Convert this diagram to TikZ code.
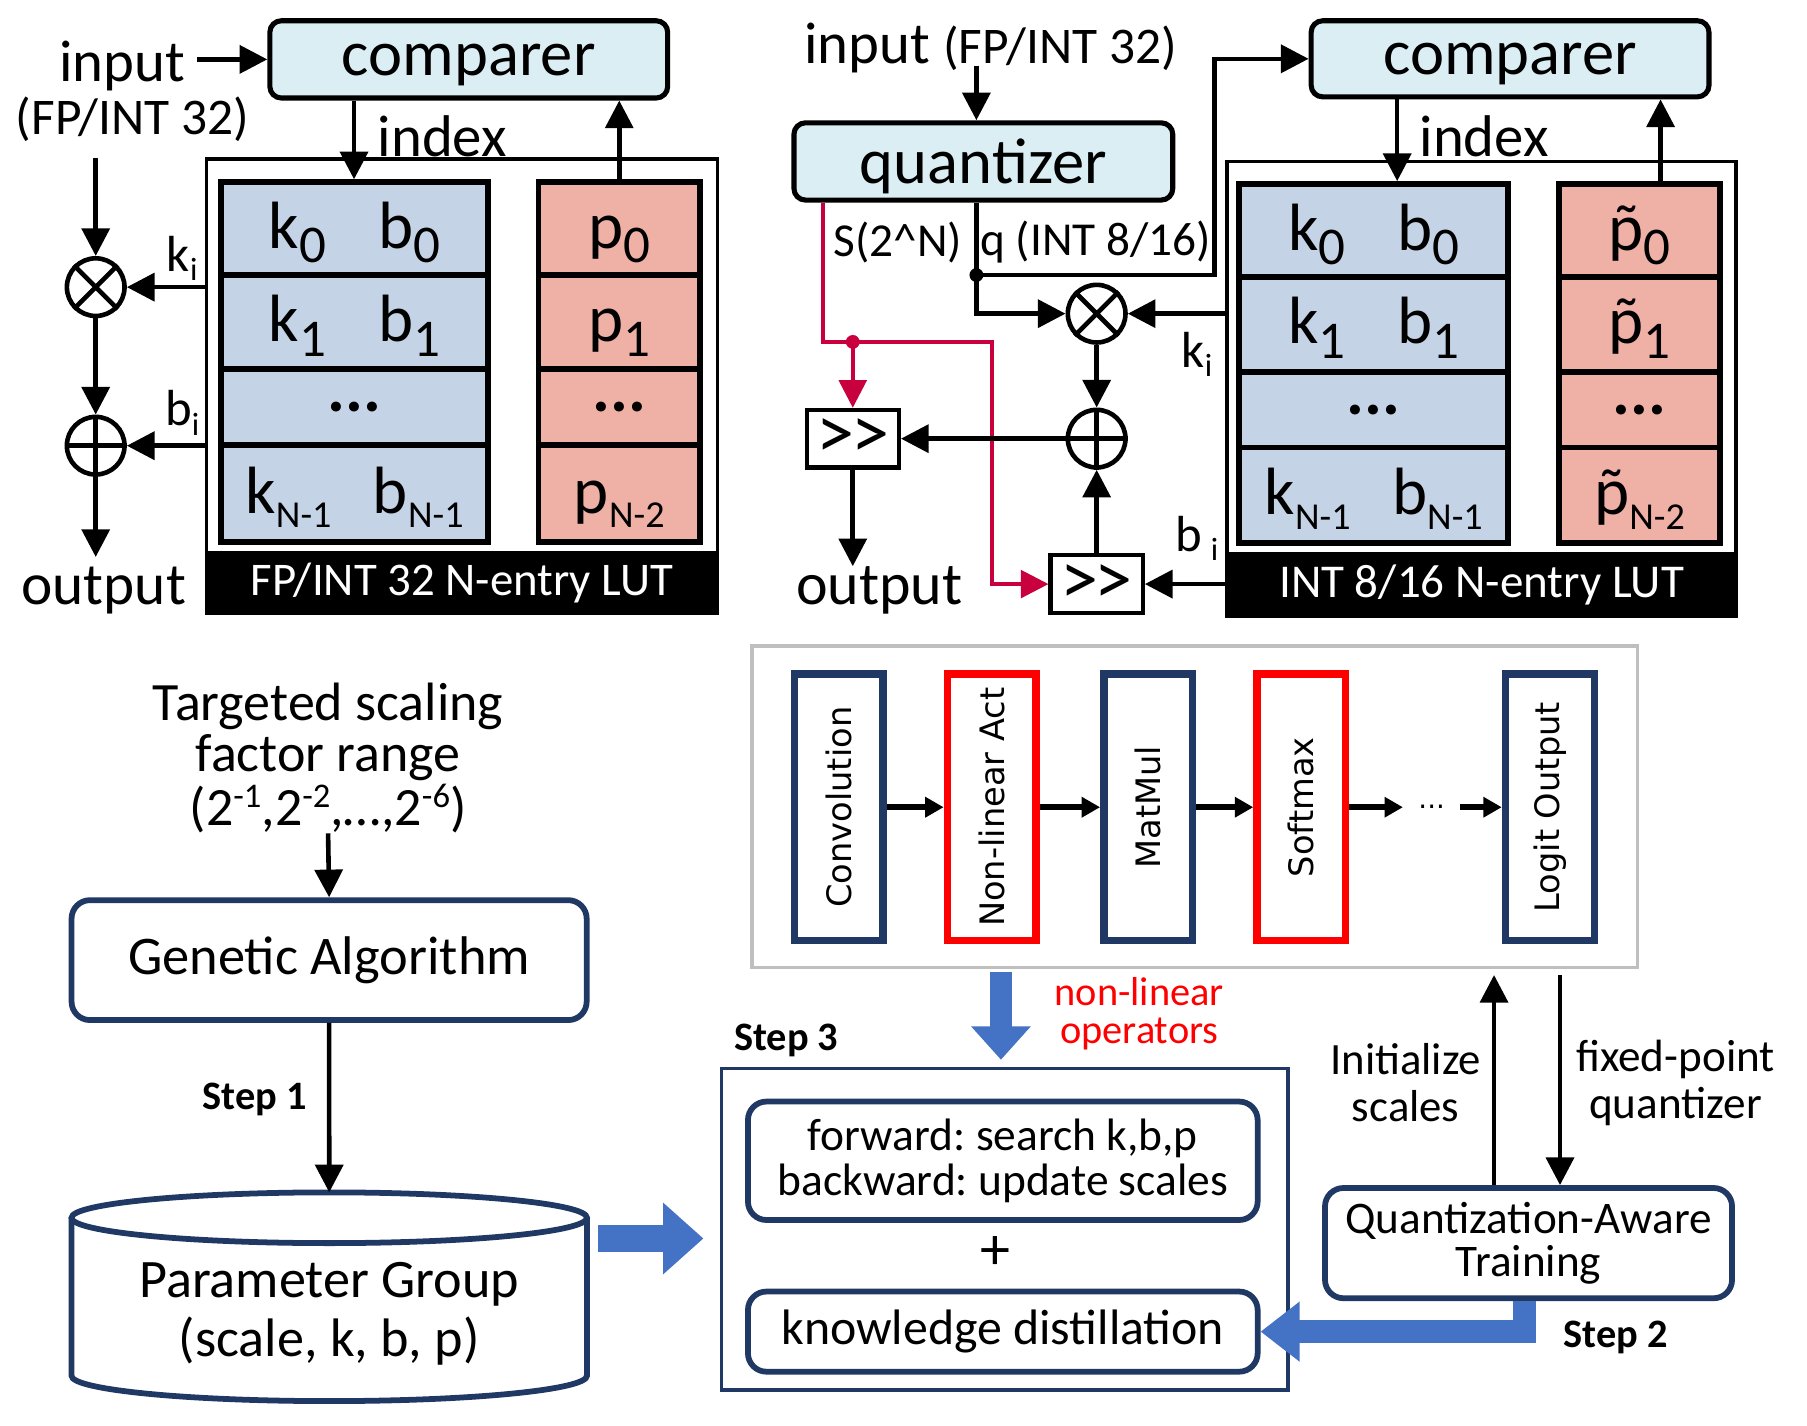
\documentclass[tikz,border=0pt]{standalone}
\usepackage{fontspec}
\setmainfont{Carlito}
\newfontfamily\vfont{DejaVu Sans}
\usetikzlibrary{arrows.meta,calc}
\definecolor{cmpblue}{RGB}{218,238,243}
\definecolor{tblblue}{RGB}{197,211,230}
\definecolor{tblpink}{RGB}{239,176,166}
\definecolor{navy}{RGB}{32,56,100}
\definecolor{arrblue}{RGB}{68,114,196}
\definecolor{crim}{RGB}{200,0,62}
\definecolor{framegray}{RGB}{191,191,191}
\newcommand\fsz[1]{\fontsize{#1}{#1}\selectfont}
\newcommand\sbs[2][23]{\raisebox{-6.3pt}{\fsz{#1}#2}}
\newcommand\sps[1]{\raisebox{8pt}{\fsz{15}#1}}
\newcommand\pt{{\accent"02DC p}}
\newcommand\shift{\textgreater\kern-1.5pt\textgreater}
\frenchspacing
\begin{document}
\begin{tikzpicture}[x=0.5pt,y=-0.5pt,
  box/.style={draw, line width=2.2pt, rounded corners=5pt, fill=cmpblue, inner sep=0pt, font=\fsz{28}, text depth=0pt},
  cell/.style={draw, line width=2.5pt, inner sep=0pt, font=\fsz{29}},
  cb/.style={cell, fill=tblblue, minimum width=116pt},
  cp/.style={cell, fill=tblpink, minimum width=70pt},
  txtrow/.style={text height=20pt, text depth=3pt},
  arr/.style={line width=2pt, -{Triangle[length=12pt,width=12pt]}},
  op/.style={circle, draw, line width=2pt, minimum size=25pt, inner sep=0pt},
  shr/.style={draw, line width=1.8pt, inner sep=0pt, font=\fsz{33}, minimum width=40pt, minimum height=25pt},
  redl/.style={crim, line width=1.6pt},
  redarr/.style={crim, line width=1.6pt, -{Triangle[length=12pt,width=12pt]}},
  nbox/.style={draw=navy, line width=2.5pt, rounded corners=8pt, inner sep=0pt, align=center},
  layer/.style={draw=navy, line width=3.2pt, rotate=90, minimum width=115.5pt, minimum height=38.5pt, inner sep=0pt, font=\vfont\fsz{14.6}},
  layerr/.style={layer, draw=red},
  arr2/.style={line width=2.8pt, -{Triangle[length=8pt,width=8.5pt]}},
  bigarr/.style={arrblue, line join=miter, line cap=butt},
  lbl/.style={inner sep=0pt}
]
\useasboundingbox (0,0) rectangle (1567,1236);

% ================= LEFT PANEL =================
\node[box, minimum width=172.5pt, minimum height=33.5pt] (cmpL) at (406.5,51.5) {comparer};
\node[lbl, font=\fsz{25.5}] (inL) at (106,57) {input};
\node[lbl, font=\fsz{22.3}] (fpL) at (115,103.4) {(FP/INT 32)};
\node[draw, line width=1.5pt, minimum width=221.5pt, minimum height=196.75pt] (lutL) at (400.5,334.75) {};
\node[fill=black, draw=black, line width=1.2pt, minimum width=221.5pt, minimum height=26.25pt, inner sep=0pt, text=white, font=\fsz{20.3}] (bandL) at (400.5,505.25) {FP/INT 32 N-entry LUT};

\node[cb, txtrow, minimum height=40.25pt] (tL0) at (307.5,198.25) {k\sbs{0}\hspace{22.5pt}b\sbs{0}};
\node[cb, txtrow, minimum height=40.75pt] (tL1) at (307.5,279.25) {k\sbs{1}\hspace{22.5pt}b\sbs{1}};
\node[cb, minimum height=33pt, font=\fsz{29}\bfseries] (tL2) at (307.5,353) {...};
\node[cb, txtrow, minimum height=42pt] (tL3) at (307.5,428) {k\sbs[16.5]{N-1}\hspace{18pt}b\sbs[16.5]{N-1}};
\node[cp, txtrow, minimum height=40.25pt] (pL0) at (537,198.25) {p\sbs{0}};
\node[cp, txtrow, minimum height=40.75pt] (pL1) at (537,279.25) {p\sbs{1}};
\node[cp, minimum height=33pt, font=\fsz{29}\bfseries] (pL2) at (537,353) {...};
\node[cp, txtrow, minimum height=42pt] (pL3) at (537,428) {p\sbs[16.5]{N-2}};

\node[op] (mulL) at (83,249) {};
\draw[line width=2pt] (mulL.north west) -- (mulL.south east) (mulL.north east) -- (mulL.south west);
\node[op] (addL) at (83,386.5) {};
\draw[line width=2pt] (addL.north) -- (addL.south) (addL.west) -- (addL.east);

\node[lbl, font=\fsz{22}] (kiL) at (158,224) {k\raisebox{-4pt}{\fsz{14}i}};
\node[lbl, font=\fsz{22}] (biL) at (158,358) {b\raisebox{-4pt}{\fsz{14}i}};
\node[lbl, font=\fsz{25.7}] (outL) at (90,512) {output};
\node[lbl, font=\fsz{25.5}] (ixlabL) at (383.5,118) {index};

\coordinate (inLd) at (83,137);
\coordinate (outLa) at (83,483);
\coordinate (ixL) at (307,0);
\coordinate (pxL) at (537,0);
\draw[arr, shorten <=5pt] (inL.east |- cmpL.west) -- (cmpL.west);
\draw[arr] (inLd) -- (mulL.north);
\draw[arr] (mulL.south) -- (addL.north);
\draw[arr] (lutL.west |- mulL.east) -- (mulL.east);
\draw[arr] (lutL.west |- addL.east) -- (addL.east);
\draw[arr] (addL.south) -- (outLa);
\draw[arr] (cmpL.south -| ixL) -- (tL0.north -| ixL);
\draw[arr] (pL0.north -| pxL) -- (cmpL.south -| pxL);

% ================= RIGHT PANEL =================
\node[lbl] (inR) at (859,42) {\fsz{25.5}input {\fsz{22.3}(FP/INT 32)}};
\node[box, minimum width=164.25pt, minimum height=33.5pt] (quant) at (852.75,140) {quantizer};
\node[box, minimum width=172.5pt, minimum height=33pt] (cmpR) at (1309.5,51) {comparer};
\node[draw, line width=1.5pt, minimum width=220.8pt, minimum height=197pt] (lutR) at (1284.8,337) {};
\node[fill=black, draw=black, line width=1.2pt, minimum width=220.8pt, minimum height=27pt, inner sep=0pt, text=white, font=\fsz{20.4}] (bandR) at (1284.8,507) {INT 8/16 N-entry LUT};

\node[cb, txtrow, minimum height=40.2pt, minimum width=116.5pt] (tR0) at (1191.2,199.8) {k\sbs{0}\hspace{22.5pt}b\sbs{0}};
\node[cb, txtrow, minimum height=41.25pt, minimum width=116.5pt] (tR1) at (1191.2,281.25) {k\sbs{1}\hspace{22.5pt}b\sbs{1}};
\node[cb, minimum height=32.75pt, minimum width=116.5pt, font=\fsz{29}\bfseries] (tR2) at (1191.2,355.25) {...};
\node[cb, txtrow, minimum height=41.5pt, minimum width=116.5pt] (tR3) at (1191.2,429.5) {k\sbs[16.5]{N-1}\hspace{18pt}b\sbs[16.5]{N-1}};
\node[cp, txtrow, minimum height=40.2pt] (pR0) at (1421.75,199.8) {\pt\sbs{0}};
\node[cp, txtrow, minimum height=41.25pt] (pR1) at (1421.75,281.25) {\pt\sbs{1}};
\node[cp, minimum height=32.75pt, font=\fsz{29}\bfseries] (pR2) at (1421.75,355.25) {...};
\node[cp, txtrow, minimum height=41.5pt] (pR3) at (1421.75,429.5) {\pt\sbs[16.5]{N-2}};

\node[op] (mulR) at (951,272) {};
\draw[line width=2pt] (mulR.north west) -- (mulR.south east) (mulR.north east) -- (mulR.south west);
\node[op] (addR) at (951,380.4) {};
\draw[line width=2pt] (addR.north) -- (addR.south) (addR.west) -- (addR.east);
\node[shr] (shr1) at (739.5,380.4) {\shift};
\node[shr] (shr2) at (951,506.5) {\shift};

\node[lbl, font=\fsz{20.5}] (sN) at (778.5,210) {S(2\textasciicircum N)};
\node[lbl, font=\fsz{20.5}] (qlab) at (950,210) {q (INT 8/16)};
\node[lbl, font=\fsz{22}] (kiR) at (1038,307.5) {k\raisebox{-4pt}{\fsz{14}i}};
\node[lbl, font=\fsz{22}] (biR) at (1038,467) {b\,\raisebox{-4pt}{\fsz{14}i}};
\node[lbl, font=\fsz{26}] (outR) at (762.5,512) {output};
\node[lbl, font=\fsz{25.5}] (ixlabR) at (1287,118) {index};

% red path
\coordinate (rx) at (713.4,0);
\coordinate (rdot) at (739.5,296.5);
\coordinate (rturn) at (860,296.5);
\draw[redarr] (quant.south -| rx) |- (rturn) |- (shr2.west);
\draw[redarr] (rdot) -- (shr1.north);
\fill[crim] (rdot) circle[radius=3pt];

\coordinate (inRa) at (846.7,57);
\coordinate (qdot) at (846.7,238.5);
\coordinate (qturn) at (1053,238.5);
\coordinate (outRa) at (739.5,491);
\coordinate (ixR) at (1211.6,0);
\coordinate (pxR) at (1440,0);
\draw[arr] (inRa) -- (quant.north -| inRa);
\draw[line width=2pt] (quant.south -| qdot) -- (qdot);
\draw[arr] (qdot) |- (mulR.west);
\draw[arr] (qdot) -- (qturn) |- (cmpR.west);
\fill (qdot) circle[radius=3pt];
\draw[arr] (mulR.south) -- (addR.north);
\draw[arr] (lutR.west |- mulR.east) -- (mulR.east);
\draw[arr] (addR.west) -- (shr1.east);
\draw[arr] (lutR.west |- shr2.east) -- (shr2.east);
\draw[arr] (shr2.north) -- (addR.south);
\draw[arr] (shr1.south) -- (outRa);
\draw[arr] (cmpR.south -| ixR) -- (tR0.north -| ixR);
\draw[arr] (pR0.north -| pxR) -- (cmpR.south -| pxR);

% ================= BOTTOM LEFT =================
\node[lbl, font=\fontsize{23.4}{22}\selectfont, align=center] (tgt) at (284.5,635) {Targeted scaling\\factor range};
\node[lbl, font=\fsz{23.4}] (rng) at (284.5,701) {(2\sps{-1},2\sps{-2},…,2\sps{-6})};
\coordinate (rngb) at (284.5,722.6);
\node[nbox, minimum width=223.35pt, minimum height=52pt, font=\fsz{23.6}] (ga) at (285.4,832.6) {Genetic Algorithm};
\draw[arr] (rngb) -- (ga.north);
\draw[navy, line width=2.5pt, fill=white] (62,1056) -- (62,1193) arc[start angle=180, end angle=360, x radius=111.75pt, y radius=11pt] -- (509,1056);
\draw[navy, line width=2.5pt] (285.5,1056) ellipse [x radius=111.75pt, y radius=11pt];
\coordinate (cyltop) at (285.5,1034);
\draw[arr] (ga.south) -- (cyltop);
\node[lbl, font=\fontsize{23.5}{25.5}\selectfont, align=center] (cyl) at (285.5,1139) {Parameter Group\\(scale, k, b, p)};
\node[lbl, font=\fsz{17.5}\bfseries] (st1) at (221,953) {Step 1};
\coordinate (b1s) at (519,1074);
\coordinate (b1e) at (610,1074);
\draw[bigarr, line width=12pt, -{Triangle[length=17.5pt,width=30pt]}] (b1s) -- (b1e);

% ================= NETWORK =================
\node[draw=framegray, line width=1.5pt, minimum width=384pt, minimum height=139.5pt] (net) at (1036,699.5) {};
\node[layer] (conv) at (727.3,700) {Convolution};
\node[layerr] (nla) at (860,700) {Non-linear Act};
\node[layer] (mm) at (995.7,700) {MatMul};
\node[layerr] (sm) at (1128.5,700) {Softmax};
\node[layer] (lo) at (1344,700) {Logit Output};
\node[font=\vfont\fsz{12}, minimum width=24.5pt, inner sep=0pt] (ndots) at (1241.5,700) {...};
\draw[arr2] (conv) -- (nla);
\draw[arr2] (nla) -- (mm);
\draw[arr2] (mm) -- (sm);
\draw[arr2] (sm) -- (ndots);
\draw[arr2] (ndots) -- (lo);

% ================= BOTTOM RIGHT =================
\node[draw=navy, line width=1.5pt, minimum width=245.75pt, minimum height=139.5pt] (s3) at (871.25,1066) {};
\node[lbl, font=\fsz{17.5}\bfseries] (st3) at (681.8,902) {Step 3};
\node[lbl, text=red, font=\fontsize{17.5}{16.5}\selectfont, align=center] (nlop) at (988,879) {non-linear\\operators};
\node[nbox, minimum width=221pt, minimum height=51.35pt, font=\fontsize{19.7}{19.5}\selectfont] (fwd) at (869.6,1006.6) {forward: search k,b,p\\backward: update scales};
\node[lbl, font=\fsz{26}] (plus) at (863,1087) {+};
\node[nbox, minimum width=221pt, minimum height=34.75pt, font=\fsz{21.6}] (kd) at (869.6,1154.75) {knowledge distillation};
\node[nbox, minimum width=176.5pt, minimum height=47.8pt, font=\fontsize{19.6}{18.8}\selectfont] (qat) at (1325.5,1078) {Quantization-Aware\\Training};
\node[lbl, font=\fontsize{19.4}{20.3}\selectfont, align=center] (initl) at (1219,939) {Initialize\\scales};
\node[lbl, font=\fontsize{19.6}{20.3}\selectfont, align=center] (fixl) at (1453,939) {fixed-point\\quantizer};
\node[lbl, font=\fsz{17.5}\bfseries] (st2) at (1401,1160) {Step 2};

\coordinate (ix) at (1295.6,0);
\coordinate (fx) at (1352.8,0);
\draw[arr] (qat.north -| ix) -- ([yshift=-2.5pt]net.south -| ix);
\draw[arr] ([yshift=-2.5pt]net.south -| fx) -- (qat.north -| fx);
\coordinate (bdx) at (868,0);
\draw[bigarr, line width=9.5pt, -{Triangle[length=14.5pt,width=25pt]}] ([yshift=-1pt]net.south -| bdx) -- ([yshift=3pt]s3.north -| bdx);
\coordinate (lx) at (1322,0);
\draw[bigarr, line width=10pt, -{Triangle[length=17pt,width=25pt]}] (qat.south -| lx) |- (kd.east);
\end{tikzpicture}
\end{document}
